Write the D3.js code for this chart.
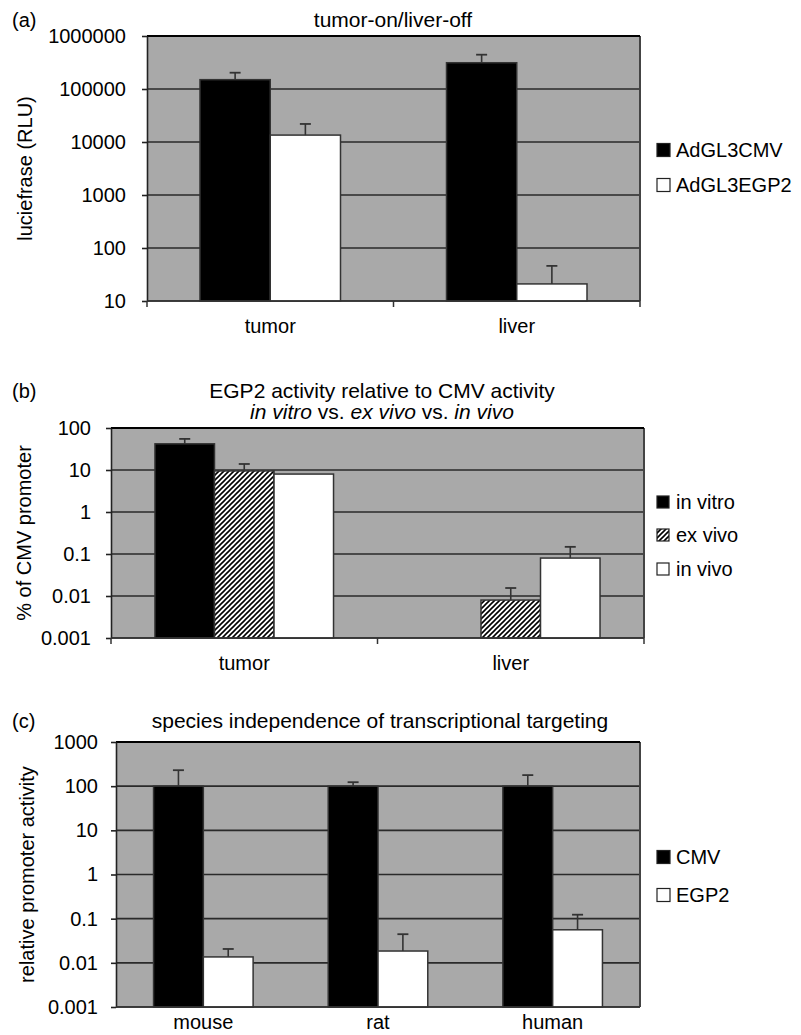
<!DOCTYPE html>
<html>
<head>
<meta charset="utf-8">
<script src="https://cdn.jsdelivr.net/npm/d3@7"></script>
<style>
  body { margin: 0; background: #fff; }
  svg { display: block; font-family: "Liberation Sans", Arial, Helvetica, sans-serif; }
</style>
</head>
<body>
<svg id="chart" width="801" height="1035"></svg>
<script>
// ---- panel (a) data ----
const catsA = ["tumor", "liver"];
const seriesA = ["AdGL3CMV", "AdGL3EGP2"];
const cmvA = [150000, 313000];
const cmvErrA = [53000, 131000];
const egp2A = [13500, 21];
const egp2ErrA = [8400, 25];
const ticksA = [10, 100, 1000, 10000, 100000, 1000000];

// ---- panel (b) data ----
const catsB = ["tumor", "liver"];
const seriesB = ["in vitro", "ex vivo", "in vivo"];
const inVitroB = [42, null];
const inVitroErrB = [13, null];
const exVivoB = [9.5, 0.008];
const exVivoErrB = [4.4, 0.0075];
const inVivoB = [8, 0.08];
const inVivoErrB = [null, 0.068];
const ticksB = [0.001, 0.01, 0.1, 1, 10, 100];

// ---- panel (c) data ----
const catsC = ["mouse", "rat", "human"];
const seriesC = ["CMV", "EGP2"];
const cmvC = [100, 100, 100];
const cmvErrC = [130, 23, 78];
const egp2C = [0.0136, 0.0185, 0.056];
const egp2ErrC = [0.007, 0.026, 0.067];
const ticksC = [0.001, 0.01, 0.1, 1, 10, 100, 1000];

const svg = d3.select("#chart");

// hatch pattern for "ex vivo"
const defs = svg.append("defs");
const pat = defs.append("pattern")
  .attr("id", "hatch")
  .attr("patternUnits", "userSpaceOnUse")
  .attr("width", 5)
  .attr("height", 5);
pat.append("rect").attr("width", 5).attr("height", 5).attr("fill", "#fff");
pat.append("path")
  .attr("d", "M-1,1 L1,-1 M0,5 L5,0 M4,6 L6,4")
  .attr("stroke", "#000")
  .attr("stroke-width", 1.6);

// panel layout
const panels = [
  {
    tag: "(a)", tagY: 27,
    title: [[["tumor-on/liver-off", false]]], titleX: 393, titleY: [27],
    cats: catsA,
    series: [
      { name: seriesA[0], values: cmvA, errs: cmvErrA, fill: "#000" },
      { name: seriesA[1], values: egp2A, errs: egp2ErrA, fill: "#fff" }
    ],
    ticks: ticksA,
    x0: 147, x1: 640, y0: 36, y1: 301, pad: 0.43,
    yLabel: "luciefrase (RLU)", yLabelX: 25, tickPad: 16,
    catTicks: true, labelY: 333,
    legendY: [150, 185], legendSize: 13
  },
  {
    tag: "(b)", tagY: 398,
    title: [
      [["EGP2 activity relative to CMV activity", false]],
      [["in vitro", true], [" vs. ", false], ["ex vivo", true], [" vs. ", false], ["in vivo", true]]
    ],
    titleX: 382, titleY: [398, 419],
    cats: catsB,
    series: [
      { name: seriesB[0], values: inVitroB, errs: inVitroErrB, fill: "#000" },
      { name: seriesB[1], values: exVivoB, errs: exVivoErrB, fill: "url(#hatch)" },
      { name: seriesB[2], values: inVivoB, errs: inVivoErrB, fill: "#fff" }
    ],
    ticks: ticksB,
    x0: 111, x1: 644, y0: 428, y1: 638, pad: 0.33,
    yLabel: "% of CMV promoter", yLabelX: 24, tickPad: 15,
    catTicks: true, labelY: 670,
    legendY: [502, 535, 569], legendSize: 12
  },
  {
    tag: "(c)", tagY: 728,
    title: [[["species independence of transcriptional targeting", false]]], titleX: 380, titleY: [728],
    cats: catsC,
    series: [
      { name: seriesC[0], values: cmvC, errs: cmvErrC, fill: "#000" },
      { name: seriesC[1], values: egp2C, errs: egp2ErrC, fill: "#fff" }
    ],
    ticks: ticksC,
    x0: 116, x1: 640, y0: 742, y1: 1007, pad: 0.43,
    yLabel: "relative promoter activity", yLabelX: 27, tickPad: 13,
    catTicks: false, labelY: 1029,
    legendY: [857, 895], legendSize: 13
  }
];

const drawPanel = (p) => {
  const g = svg.append("g");

  const x = d3.scaleBand()
    .domain(p.cats)
    .range([p.x0, p.x1])
    .paddingInner(p.pad)
    .paddingOuter(p.pad / 2);
  const xs = d3.scaleBand()
    .domain(p.series.map((s) => s.name))
    .range([0, x.bandwidth()]);
  const y = d3.scaleLog()
    .domain([p.ticks[0], p.ticks[p.ticks.length - 1]])
    .range([p.y1, p.y0]);

  // plot background
  g.append("rect")
    .attr("x", p.x0).attr("y", p.y0)
    .attr("width", p.x1 - p.x0).attr("height", p.y1 - p.y0)
    .attr("fill", "#a9a9a9");

  // gridlines
  g.selectAll(".grid")
    .data(p.ticks)
    .join("line")
    .attr("class", "grid")
    .attr("x1", p.x0).attr("x2", p.x1)
    .attr("y1", (d) => y(d)).attr("y2", (d) => y(d))
    .attr("stroke", "#2a2a2a")
    .attr("stroke-width", 1.6);

  // right + top border
  g.append("line")
    .attr("x1", p.x1).attr("x2", p.x1).attr("y1", p.y0).attr("y2", p.y1)
    .attr("stroke", "#444").attr("stroke-width", 2);
  g.append("line")
    .attr("x1", p.x0).attr("x2", p.x1).attr("y1", p.y0).attr("y2", p.y0)
    .attr("stroke", "#000").attr("stroke-width", 1.8);

  // bars and error bars
  p.series.forEach((s) => {
    const rows = p.cats
      .map((c, i) => ({ c: c, v: s.values[i], e: s.errs[i] }))
      .filter((d) => d.v != null);

    g.selectAll(null)
      .data(rows)
      .join("rect")
      .attr("x", (d) => x(d.c) + xs(s.name))
      .attr("width", xs.bandwidth())
      .attr("y", (d) => y(d.v))
      .attr("height", (d) => p.y1 - y(d.v))
      .attr("fill", s.fill)
      .attr("stroke", "#333")
      .attr("stroke-width", 1.5);

    const errRows = rows.filter((d) => d.e != null);
    const cx = (d) => x(d.c) + xs(s.name) + xs.bandwidth() / 2;
    g.selectAll(null)
      .data(errRows)
      .join("line")
      .attr("x1", cx).attr("x2", cx)
      .attr("y1", (d) => y(d.v)).attr("y2", (d) => y(d.v + d.e))
      .attr("stroke", "#333").attr("stroke-width", 1.6);
    g.selectAll(null)
      .data(errRows)
      .join("line")
      .attr("x1", (d) => cx(d) - 5.5).attr("x2", (d) => cx(d) + 5.5)
      .attr("y1", (d) => y(d.v + d.e)).attr("y2", (d) => y(d.v + d.e))
      .attr("stroke", "#333").attr("stroke-width", 1.8);
  });

  // y axis
  const yAxis = g.append("g")
    .attr("transform", `translate(${p.x0},0)`)
    .call(d3.axisLeft(y)
      .tickValues(p.ticks)
      .tickFormat((d) => String(d))
      .tickSize(5)
      .tickSizeOuter(0)
      .tickPadding(p.tickPad));
  yAxis.select(".domain").attr("stroke", "#222").attr("stroke-width", 1.6);
  yAxis.selectAll(".tick line").attr("stroke", "#222").attr("stroke-width", 1.6);
  yAxis.selectAll(".tick text")
    .attr("fill", "#000")
    .style("font-size", "20px")
    .style("font-family", "'Liberation Sans', Arial, sans-serif");

  // x axis line
  g.append("line")
    .attr("x1", p.x0).attr("x2", p.x1).attr("y1", p.y1).attr("y2", p.y1)
    .attr("stroke", "#333").attr("stroke-width", 1.6);
  if (p.catTicks) {
    g.selectAll(null)
      .data(d3.range(p.cats.length + 1))
      .join("line")
      .attr("x1", (i) => p.x0 + i * x.step())
      .attr("x2", (i) => p.x0 + i * x.step())
      .attr("y1", p.y1).attr("y2", p.y1 + 6)
      .attr("stroke", "#333").attr("stroke-width", 1.5);
  }

  // category labels
  g.selectAll(null)
    .data(p.cats)
    .join("text")
    .attr("x", (d) => x(d) + x.bandwidth() / 2)
    .attr("y", p.labelY)
    .attr("text-anchor", "middle")
    .style("font-size", "20px")
    .text((d) => d);

  // y label
  g.append("text")
    .attr("transform", `translate(${p.yLabelX},${(p.y0 + p.y1) / 2}) rotate(-90)`)
    .attr("text-anchor", "middle")
    .attr("dy", "0.35em")
    .style("font-size", "20px")
    .text(p.yLabel);

  // panel tag
  g.append("text")
    .attr("x", 12).attr("y", p.tagY)
    .style("font-size", "20px")
    .text(p.tag);

  // title lines
  p.title.forEach((line, li) => {
    const t = g.append("text")
      .attr("x", p.titleX).attr("y", p.titleY[li])
      .attr("text-anchor", "middle")
      .style("font-size", "21px");
    line.forEach((part) => {
      t.append("tspan")
        .style("font-style", part[1] ? "italic" : "normal")
        .text(part[0]);
    });
  });

  // legend
  p.series.forEach((s, i) => {
    const ly = p.legendY[i];
    const sz = p.legendSize;
    g.append("rect")
      .attr("x", 657).attr("y", ly - sz / 2)
      .attr("width", sz).attr("height", sz)
      .attr("fill", s.fill)
      .attr("stroke", "#222").attr("stroke-width", 1.2);
    g.append("text")
      .attr("x", 676).attr("y", ly + 7)
      .style("font-size", "20px")
      .text(s.name);
  });
};

panels.forEach(drawPanel);
</script>
</body>
</html>
